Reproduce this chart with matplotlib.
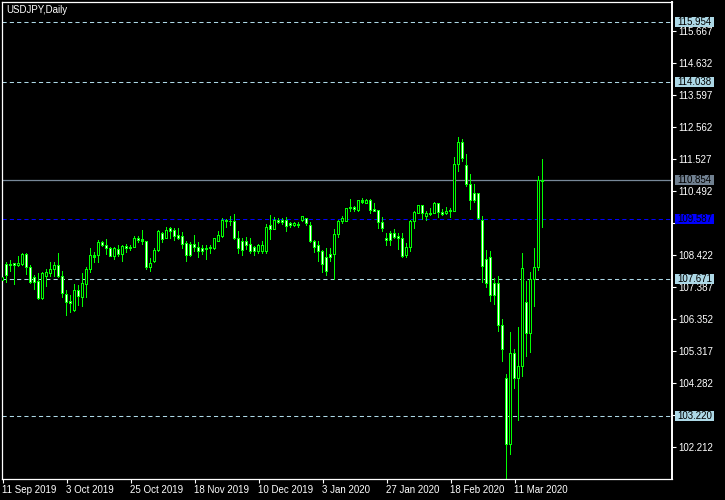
import matplotlib
matplotlib.use('Agg')
import matplotlib.pyplot as plt
from matplotlib.patches import Rectangle
import pandas as pd

plt.rcParams['font.family'] = ['Liberation Sans', 'DejaVu Sans']

title_text = "USDJPY,Daily"

opens = [107.62, 108.11, 108.12, 108.16, 108.10, 108.11, 108.46, 108.03, 107.71, 107.57,
         107.03, 107.75, 107.84, 107.95, 108.08, 107.75, 107.17, 106.92, 106.65, 107.28,
         107.05, 107.49, 107.97, 108.40, 108.40, 108.84, 108.75, 108.65, 108.38, 108.61,
         108.46, 108.70, 108.63, 108.68, 108.97, 108.92, 108.86, 108.03, 108.22, 108.59,
         109.13, 108.97, 109.29, 109.24, 109.05, 109.02, 108.81, 108.78, 108.78, 108.68,
         108.63, 108.60, 108.65, 108.65, 108.88, 109.02, 109.51, 109.51, 109.53, 108.97,
         108.88, 108.88, 108.76, 108.67, 108.54, 108.54, 108.54, 109.37, 109.27, 109.56,
         109.56, 109.56, 109.46, 109.40, 109.42, 109.56, 109.62, 109.40, 108.88, 108.73,
         108.56, 108.35, 108.45, 108.45, 109.10, 109.53, 109.51, 109.92, 109.98, 109.88,
         110.18, 110.10, 110.20, 109.89, 109.86, 109.49, 108.97, 109.13, 109.13, 109.02,
         108.97, 108.41, 108.67, 109.51, 109.78, 110.02, 109.67, 109.78, 109.78, 110.10,
         109.81, 109.78, 109.85, 109.85, 111.36, 112.07, 111.32, 110.72, 110.43, 110.43,
         109.56, 108.30, 108.36, 107.52, 107.52, 106.15, 104.44, 102.29, 105.25, 104.44,
         104.84, 106.89, 105.90, 107.64, 108.03, 110.80]
highs = [107.84, 108.22, 108.27, 108.18, 108.40, 108.51, 108.51, 108.11, 107.78, 107.84,
         107.89, 107.97, 108.22, 108.22, 108.51, 107.92, 107.30, 107.14, 107.49, 107.46,
         107.84, 108.05, 108.65, 108.54, 108.92, 108.90, 108.94, 108.70, 108.68, 108.75,
         108.75, 108.79, 108.75, 109.05, 109.05, 109.24, 108.90, 108.32, 108.65, 109.24,
         109.19, 109.35, 109.35, 109.31, 109.29, 109.19, 108.88, 108.86, 109.08, 108.84,
         108.75, 108.75, 108.75, 108.99, 109.21, 109.62, 109.59, 109.70, 109.76, 109.21,
         108.99, 109.02, 108.97, 108.73, 108.78, 108.88, 109.45, 109.73, 109.67, 109.64,
         109.62, 109.67, 109.51, 109.51, 109.49, 109.70, 109.64, 109.49, 108.92, 108.89,
         108.59, 108.65, 108.65, 109.27, 109.56, 109.70, 109.96, 110.24, 110.03, 110.22,
         110.29, 110.24, 110.24, 110.10, 109.89, 109.67, 109.13, 109.21, 109.27, 109.13,
         109.13, 108.81, 109.56, 109.85, 110.03, 110.05, 109.85, 109.96, 110.16, 110.10,
         109.92, 109.99, 109.94, 111.61, 112.26, 112.18, 111.69, 111.04, 110.72, 110.43,
         109.70, 108.59, 108.57, 107.68, 107.75, 106.35, 104.58, 105.95, 105.38, 106.09,
         108.51, 107.60, 107.89, 108.65, 110.99, 111.53]
lows = [107.52, 107.52, 107.89, 107.46, 108.05, 108.08, 107.78, 107.49, 107.30, 106.98,
        106.98, 107.41, 107.73, 107.73, 107.68, 107.03, 106.46, 106.57, 106.60, 106.78,
        106.76, 107.03, 107.84, 108.16, 108.16, 108.70, 108.43, 108.38, 108.27, 108.38,
        108.22, 108.51, 108.57, 108.65, 108.81, 108.75, 107.95, 107.89, 108.16, 108.54,
        108.81, 108.95, 108.95, 108.88, 108.92, 108.63, 108.22, 108.38, 108.54, 108.35,
        108.43, 108.27, 108.45, 108.59, 108.84, 108.99, 109.32, 109.38, 108.92, 108.45,
        108.41, 108.59, 108.45, 108.40, 108.45, 108.45, 108.45, 108.92, 109.24, 109.42,
        109.40, 109.16, 109.30, 109.35, 109.32, 109.51, 109.38, 108.81, 108.49, 108.22,
        107.84, 107.76, 108.22, 107.62, 108.99, 109.42, 109.49, 109.83, 109.81, 109.83,
        110.07, 110.08, 109.76, 109.83, 109.27, 109.17, 108.73, 108.73, 108.95, 108.59,
        108.32, 108.32, 108.54, 109.27, 109.75, 109.56, 109.53, 109.70, 109.75, 109.62,
        109.70, 109.72, 109.64, 109.81, 111.10, 111.45, 110.64, 109.89, 110.10, 109.56,
        107.52, 107.35, 106.92, 106.81, 105.95, 104.98, 101.19, 101.96, 104.09, 103.07,
        104.50, 105.14, 105.25, 106.74, 107.90, 109.31]
closes = [107.70, 107.78, 108.10, 108.08, 108.15, 108.46, 108.03, 107.54, 107.54, 107.03,
          107.84, 107.86, 107.95, 108.08, 107.73, 107.19, 106.89, 106.87, 107.27, 107.08,
          107.52, 107.97, 108.43, 108.36, 108.84, 108.73, 108.65, 108.38, 108.63, 108.46,
          108.70, 108.63, 108.67, 108.97, 108.90, 108.88, 108.03, 108.16, 108.59, 109.19,
          108.94, 109.24, 109.19, 109.02, 108.97, 108.78, 108.41, 108.41, 108.67, 108.54,
          108.56, 108.63, 108.69, 108.95, 109.06, 109.56, 109.56, 109.53, 108.95, 108.65,
          108.59, 108.73, 108.56, 108.54, 108.73, 108.73, 109.32, 109.27, 109.56, 109.49,
          109.49, 109.35, 109.40, 109.46, 109.38, 109.67, 109.46, 108.86, 108.67, 108.56,
          108.11, 107.91, 108.35, 109.10, 109.53, 109.62, 109.94, 109.98, 109.90, 110.18,
          110.14, 110.21, 109.88, 109.83, 109.49, 109.30, 108.89, 108.89, 108.99, 108.97,
          108.37, 108.67, 109.53, 109.81, 110.03, 109.78, 109.78, 109.75, 110.10, 109.81,
          109.75, 109.85, 109.88, 111.36, 112.07, 111.56, 110.72, 110.21, 110.18, 109.60,
          108.05, 107.51, 107.13, 107.13, 106.15, 105.36, 102.29, 105.25, 104.44, 104.84,
          108.00, 105.88, 107.64, 108.03, 110.85, 110.854]

first_day = '2019-09-11'
last_day = '2020-03-20'
holidays = ['2019-12-25', '2020-01-01']
label_dates = ['2019-09-11', '2019-10-03', '2019-10-25', '2019-11-18', '2019-12-10',
               '2020-01-03', '2020-01-27', '2020-02-18', '2020-03-11']
price_ticks = [102.212, 103.247, 104.282, 105.317, 106.352, 107.387, 108.422,
               109.457, 110.492, 111.527, 112.562, 113.597, 114.632, 115.667]
hidden_tick_labels = [103.247, 109.457]
dashed_levels = [115.954, 114.038, 107.671, 103.220]
bid_level = 110.854
blue_level = 109.587
y_min, y_max = 101.187, 116.614

dates = pd.bdate_range(first_day, last_day)
dates = dates[~dates.isin(pd.to_datetime(holidays))]
n = min(len(dates), len(opens))

W, H = 725, 500
FS = 7.0
LIME = '#00ff00'
LIGHTBLUE = '#add8e6'
fig = plt.figure(figsize=(W / 100, H / 100), dpi=100, facecolor='black')
ax_l, ax_r, ax_t, ax_b = 2, 672, 2, 479
ax = fig.add_axes([ax_l / W, 1 - ax_b / H, (ax_r - ax_l) / W, (ax_b - ax_t) / H])
ax.set_facecolor('black')
x0 = -0.125
ax.set_xlim(x0, x0 + (ax_r - ax_l) / 4.0)
ax.set_ylim(y_min, y_max)

px_per_unit = (ax_b - ax_t) / (y_max - y_min)
one_px = 1.0 / px_per_unit

def ypix(p):
    return ax_t + (y_max - p) * px_per_unit

# horizontal level lines
for lv in dashed_levels:
    ax.axhline(lv, color=LIGHTBLUE, lw=0.75, linestyle=(0, (4, 3)), zorder=1)
ax.axhline(bid_level, color='#778899', lw=0.9, zorder=1)
ax.axhline(blue_level, color='#0000ff', lw=0.75, linestyle=(0, (4, 3)), zorder=1)

# candles: wick, 3px green body frame, 1px inner fill (black = up, white = down)
for i in range(n):
    o, h, l, c = opens[i], highs[i], lows[i], closes[i]
    ax.add_patch(Rectangle((i - 0.15, l), 0.3, h - l, facecolor=LIME,
                           edgecolor='none', zorder=2, antialiased=False))
    bottom = min(o, c)
    top = max(o, c)
    ax.add_patch(Rectangle((i - 0.4, bottom - 0.5 * one_px), 0.8,
                           top - bottom + one_px, facecolor=LIME,
                           edgecolor='none', zorder=3, antialiased=False))
    if top - bottom > 1.5 * one_px:
        face = 'black' if c >= o else 'white'
        ax.add_patch(Rectangle((i - 0.15, bottom + 0.5 * one_px), 0.3,
                               top - bottom - one_px, facecolor=face,
                               edgecolor='none', zorder=4, antialiased=False))

# spines
for s in ['left', 'top', 'bottom']:
    ax.spines[s].set_color('white')
    ax.spines[s].set_linewidth(0.9)
ax.spines['right'].set_color('white')
ax.spines['right'].set_linewidth(1.4)

# y ticks on right
ax.yaxis.tick_right()
ax.set_yticks(price_ticks)
ax.set_yticklabels(['' if v in hidden_tick_labels else f"{v:.3f}" for v in price_ticks])
ax.tick_params(axis='y', colors='white', labelcolor='white', length=3, width=0.8,
               labelsize=FS, pad=1.5, direction='out')

# x ticks
lab_dt = pd.to_datetime(label_dates)
tick_pos = [int(dates.get_loc(d)) for d in lab_dt]
tick_lab = [f"{d.day} {d.strftime('%b %Y')}" for d in lab_dt]
ax.set_xticks(tick_pos)
ax.set_xticklabels(tick_lab)
ax.tick_params(axis='x', colors='white', labelcolor='white', length=3, width=0.8,
               labelsize=FS, pad=1.5, direction='out')
for t in ax.get_xticklabels():
    t.set_ha('left')

# level labels on right
def level_label(p, bg, fg):
    yc = ypix(p)
    bw, bh = 39, 10
    fig.patches.append(Rectangle((675 / W, 1 - (yc + bh / 2) / H), bw / W, bh / H,
                                 transform=fig.transFigure, facecolor=bg,
                                 edgecolor='none', zorder=5))
    fig.text(677 / W, 1 - yc / H, f"{p:.3f}", color=fg, fontsize=FS,
             va='center', ha='left', zorder=6)

for lv in dashed_levels:
    level_label(lv, LIGHTBLUE, 'black')
level_label(bid_level, '#708090', 'black')
level_label(blue_level, '#0000ff', 'black')

fig.text(6 / W, 1 - 10 / H, title_text, color='white', fontsize=FS, va='center', ha='left')

fig.savefig('out.png', dpi=100, facecolor='black')
